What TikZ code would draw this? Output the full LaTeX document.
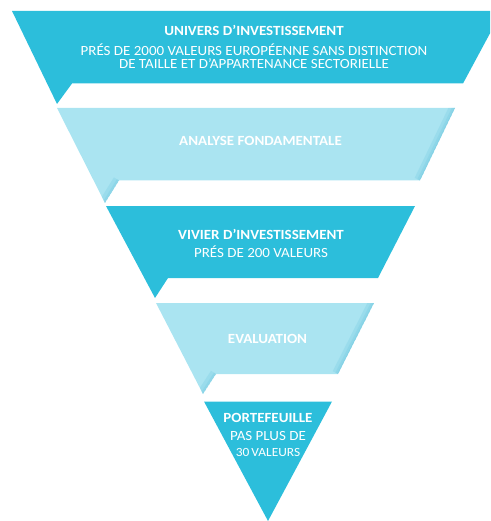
\documentclass[tikz,border=0pt]{standalone}
\usepackage{fontspec}
\setmainfont{Carlito}[FakeStretch=1.07]
\usetikzlibrary{positioning}
\definecolor{funnel-dark}{RGB}{44,190,219}
\definecolor{funnel-light}{RGB}{170,228,241}
\definecolor{funnel-shadow}{RGB}{110,200,224}
\tikzset{band-dark/.style =
   {fill=funnel-dark,
    draw=none}}
\tikzset{band-light/.style =
   {fill=funnel-light,
    draw=none}}
\tikzset{band-edge/.style =
   {draw=funnel-shadow,
    line width=12pt,
    opacity=0.25}}
\tikzset{band-title/.style =
   {text=white,
    inner sep=0pt,
    font=\fontsize{14}{13}\selectfont\bfseries}}
\tikzset{band-text/.style =
   {text=white,
    inner sep=0pt,
    font=\fontsize{14}{13}\selectfont}}

\begin{document}
\begin{tikzpicture}[x=1pt, y=-1pt]

    \useasboundingbox (0,0) rectangle (490,521);
    \clip (0,0) rectangle (490,521);

    % funnel bands, top to bottom
    \fill [band-dark]  (12,11) -- (502,11) -- (463,83.5) -- (72,83.5) -- (57,104) -- cycle;

    \begin{scope}
      \clip (57,108) -- (455,108) -- (420,180.5) -- (119,180.5) -- (105,203) -- cycle;
      \fill [band-light] (57,108) -- (455,108) -- (420,180.5) -- (119,180.5) -- (105,203) -- cycle;
      \draw [band-edge] (455,108) -- (420,180.5);
      \draw [band-edge, line width=6pt] (455,108) -- (420,180.5);
      \draw [band-edge, line width=2pt] (455,108) -- (420,180.5);
      \draw [band-edge] (119,180.5) -- (105,203);
      \draw [band-edge, line width=5pt] (119,180.5) -- (105,203);
    \end{scope}

    \fill [band-dark]  (106,206) -- (415,206) -- (378,278) -- (168,278) -- (155,298) -- cycle;

    \begin{scope}
      \clip (156,303) -- (374,303) -- (338,374) -- (216,374) -- (203,394) -- cycle;
      \fill [band-light] (156,303) -- (374,303) -- (338,374) -- (216,374) -- (203,394) -- cycle;
      \draw [band-edge] (374,303) -- (338,374);
      \draw [band-edge, line width=6pt] (374,303) -- (338,374);
      \draw [band-edge, line width=2pt] (374,303) -- (338,374);
      \draw [band-edge] (216,374) -- (203,394);
      \draw [band-edge, line width=5pt] (216,374) -- (203,394);
    \end{scope}

    \fill [band-dark]  (204,401.5) -- (332,401.5) -- (268,521) -- cycle;

    % labels
    \node [band-title,
           anchor=base] (univers) at (254,36) {UNIVERS D’INVESTISSEMENT};

    \node [band-text,
           below = 20pt of univers.base,
           anchor=base] (univers-l2) {PRÉS DE 2000 VALEURS EUROPÉENNE SANS DISTINCTION};

    \node [band-text,
           below = 12.5pt of univers-l2.base,
           anchor=base] (univers-l3) {DE TAILLE ET D’APPARTENANCE SECTORIELLE};

    \node [band-title,
           anchor=base] (analyse) at (260.5,146) {ANALYSE FONDAMENTALE};

    \node [band-title,
           anchor=base] (vivier) at (261,239) {VIVIER D’INVESTISSEMENT};

    \node [band-text,
           below = 18pt of vivier.base,
           anchor=base] (vivier-l2) {PRÉS DE 200 VALEURS};

    \node [band-title,
           anchor=base] (evaluation) at (267.5,343) {EVALUATION};

    \node [band-title,
           anchor=base] (portefeuille) at (268,422) {PORTEFEUILLE};

    \node [band-text,
           below = 18pt of portefeuille.base,
           anchor=base] (portefeuille-l2) {PAS PLUS DE};

    \node [band-text,
           font=\fontsize{12.5}{12}\selectfont,
           below = 16pt of portefeuille-l2.base,
           anchor=base] (portefeuille-l3) {30\,VALEURS};

\end{tikzpicture}
\end{document}
